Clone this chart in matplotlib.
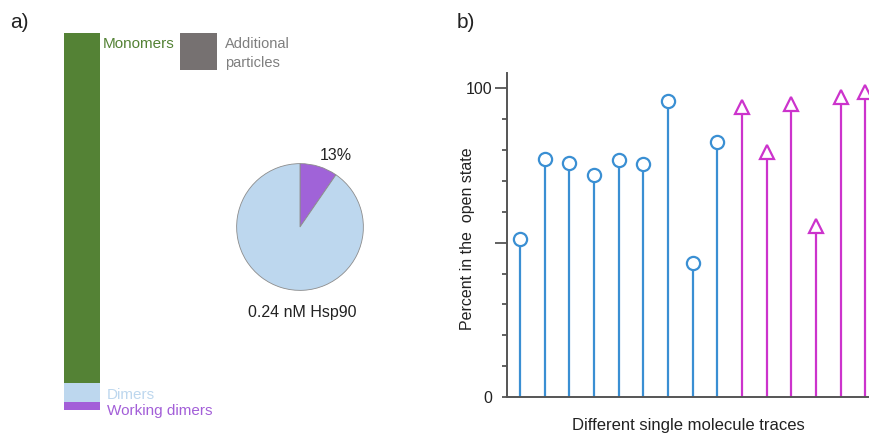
import matplotlib
matplotlib.use('Agg')
import matplotlib.pyplot as plt
from matplotlib.ticker import MultipleLocator

plt.rcParams['font.family'] = ['Liberation Sans', 'DejaVu Sans']

# panel a: stacked fractions (percent of particles), bottom to top
bar_labels = ['Working dimers', 'Dimers', 'Monomers']
bar_values = [2.1, 5.1, 92.8]
bar_colors = ['#a35fd8', '#bdd7ee', '#548235']

pie_values = [9.6, 90.4]
pie_label = '13%'
pie_title = '0.24 nM Hsp90'

# panel b: percent in open state per trace
circle_vals = [51.2, 77.0, 75.8, 71.9, 76.8, 75.4, 96.0, 43.4, 82.8]
triangle_vals = [94.0, 79.4, 95.0, 55.4, 97.1, 98.7]

W, H = 869, 434
fig = plt.figure(figsize=(W / 100, H / 100), dpi=100)

def fx(px):
    return px / W

def fy(py):
    return 1 - py / H

# --- stacked bar
ax_bar = fig.add_axes([fx(64), fy(410), fx(100) - fx(64), fy(33) - fy(410)])
bottom = 0
for lab, val, col in zip(bar_labels, bar_values, bar_colors):
    ax_bar.bar([0], [val], bottom=bottom, width=1.0, color=col, edgecolor='none')
    bottom += val
ax_bar.set_xlim(-0.5, 0.5)
ax_bar.set_ylim(0, 100)
ax_bar.axis('off')

fig.text(fx(103), fy(44), 'Monomers', color='#548235', fontsize=11, va='center')
fig.text(fx(107), fy(395), 'Dimers', color='#bdd7ee', fontsize=11, va='center')
fig.text(fx(107), fy(411), 'Working dimers', color='#a35fd8', fontsize=11, va='center')

# gray legend square
ax_sq = fig.add_axes([fx(180), fy(70), fx(217) - fx(180), fy(33) - fy(70)])
ax_sq.add_patch(plt.Rectangle((0, 0), 1, 1, color='#767171'))
ax_sq.set_xlim(0, 1)
ax_sq.set_ylim(0, 1)
ax_sq.axis('off')
fig.text(fx(225), fy(44), 'Additional', color='#7f7f7f', fontsize=10.5, va='center')
fig.text(fx(225), fy(63), 'particles', color='#7f7f7f', fontsize=10.5, va='center')

# --- pie
ax_pie = fig.add_axes([fx(236), fy(291), fx(364) - fx(236), fy(163) - fy(291)])
ax_pie.pie(pie_values, colors=['#a063d8', '#bdd7ee'], startangle=90, counterclock=False,
           wedgeprops=dict(edgecolor='#8c8c8c', linewidth=0.6))
ax_pie.set_xlim(-1.01, 1.01)
ax_pie.set_ylim(-1.01, 1.01)
ax_pie.set_aspect('equal')
fig.text(fx(336), fy(156), pie_label, fontsize=11.5, ha='center', va='center', color='#222222')
fig.text(fx(302), fy(313), pie_title, fontsize=11.5, ha='center', va='center', color='#222222')

fig.text(fx(10), fy(22), 'a)', fontsize=15, va='center', color='#222222')
fig.text(fx(457), fy(22), 'b)', fontsize=15, va='center', color='#222222')

# --- stem plot
ax = fig.add_axes([fx(507), fy(397), 1 - fx(507), fy(73) - fy(397)])
blue = '#3a8fd3'
mag = '#cc33cc'
xc = list(range(1, len(circle_vals) + 1))
xt = list(range(len(circle_vals) + 1, len(circle_vals) + len(triangle_vals) + 1))
ax.vlines(xc, 0, circle_vals, color=blue, linewidth=1.6)
ax.plot(xc, circle_vals, 'o', ms=9.5, mfc='white', mec=blue, mew=1.6, clip_on=False)
ax.vlines(xt, 0, triangle_vals, color=mag, linewidth=1.6)
ax.plot(xt, triangle_vals, '^', ms=10, mfc='white', mec=mag, mew=1.6)

ax.set_xlim(0.473, 15.15)
ax.set_ylim(0, 105)
for s in ['top', 'right']:
    ax.spines[s].set_visible(False)
for s in ['left', 'bottom']:
    ax.spines[s].set_color('#555555')
    ax.spines[s].set_linewidth(1.4)
ax.set_xticks([])
ax.set_yticks([0, 50, 100])
ax.set_yticklabels(['0', '', '100'])
ax.yaxis.set_minor_locator(MultipleLocator(10))
ax.tick_params(axis='y', which='major', length=8.5, width=1.3, color='#555555',
               labelsize=11.5, labelcolor='#222222', pad=2)
ax.tick_params(axis='y', which='minor', length=3.6, width=1.3, color='#555555')
ax.yaxis.get_major_ticks()[0].tick1line.set_markersize(3.6)
ax.set_ylabel('Percent in the  open state', fontsize=11.5, color='#222222')
ax.yaxis.set_label_coords(-0.088, 0.49)
ax.set_xlabel('Different single molecule traces', fontsize=12, color='#222222', labelpad=15)

fig.savefig('out.png', dpi=100)
